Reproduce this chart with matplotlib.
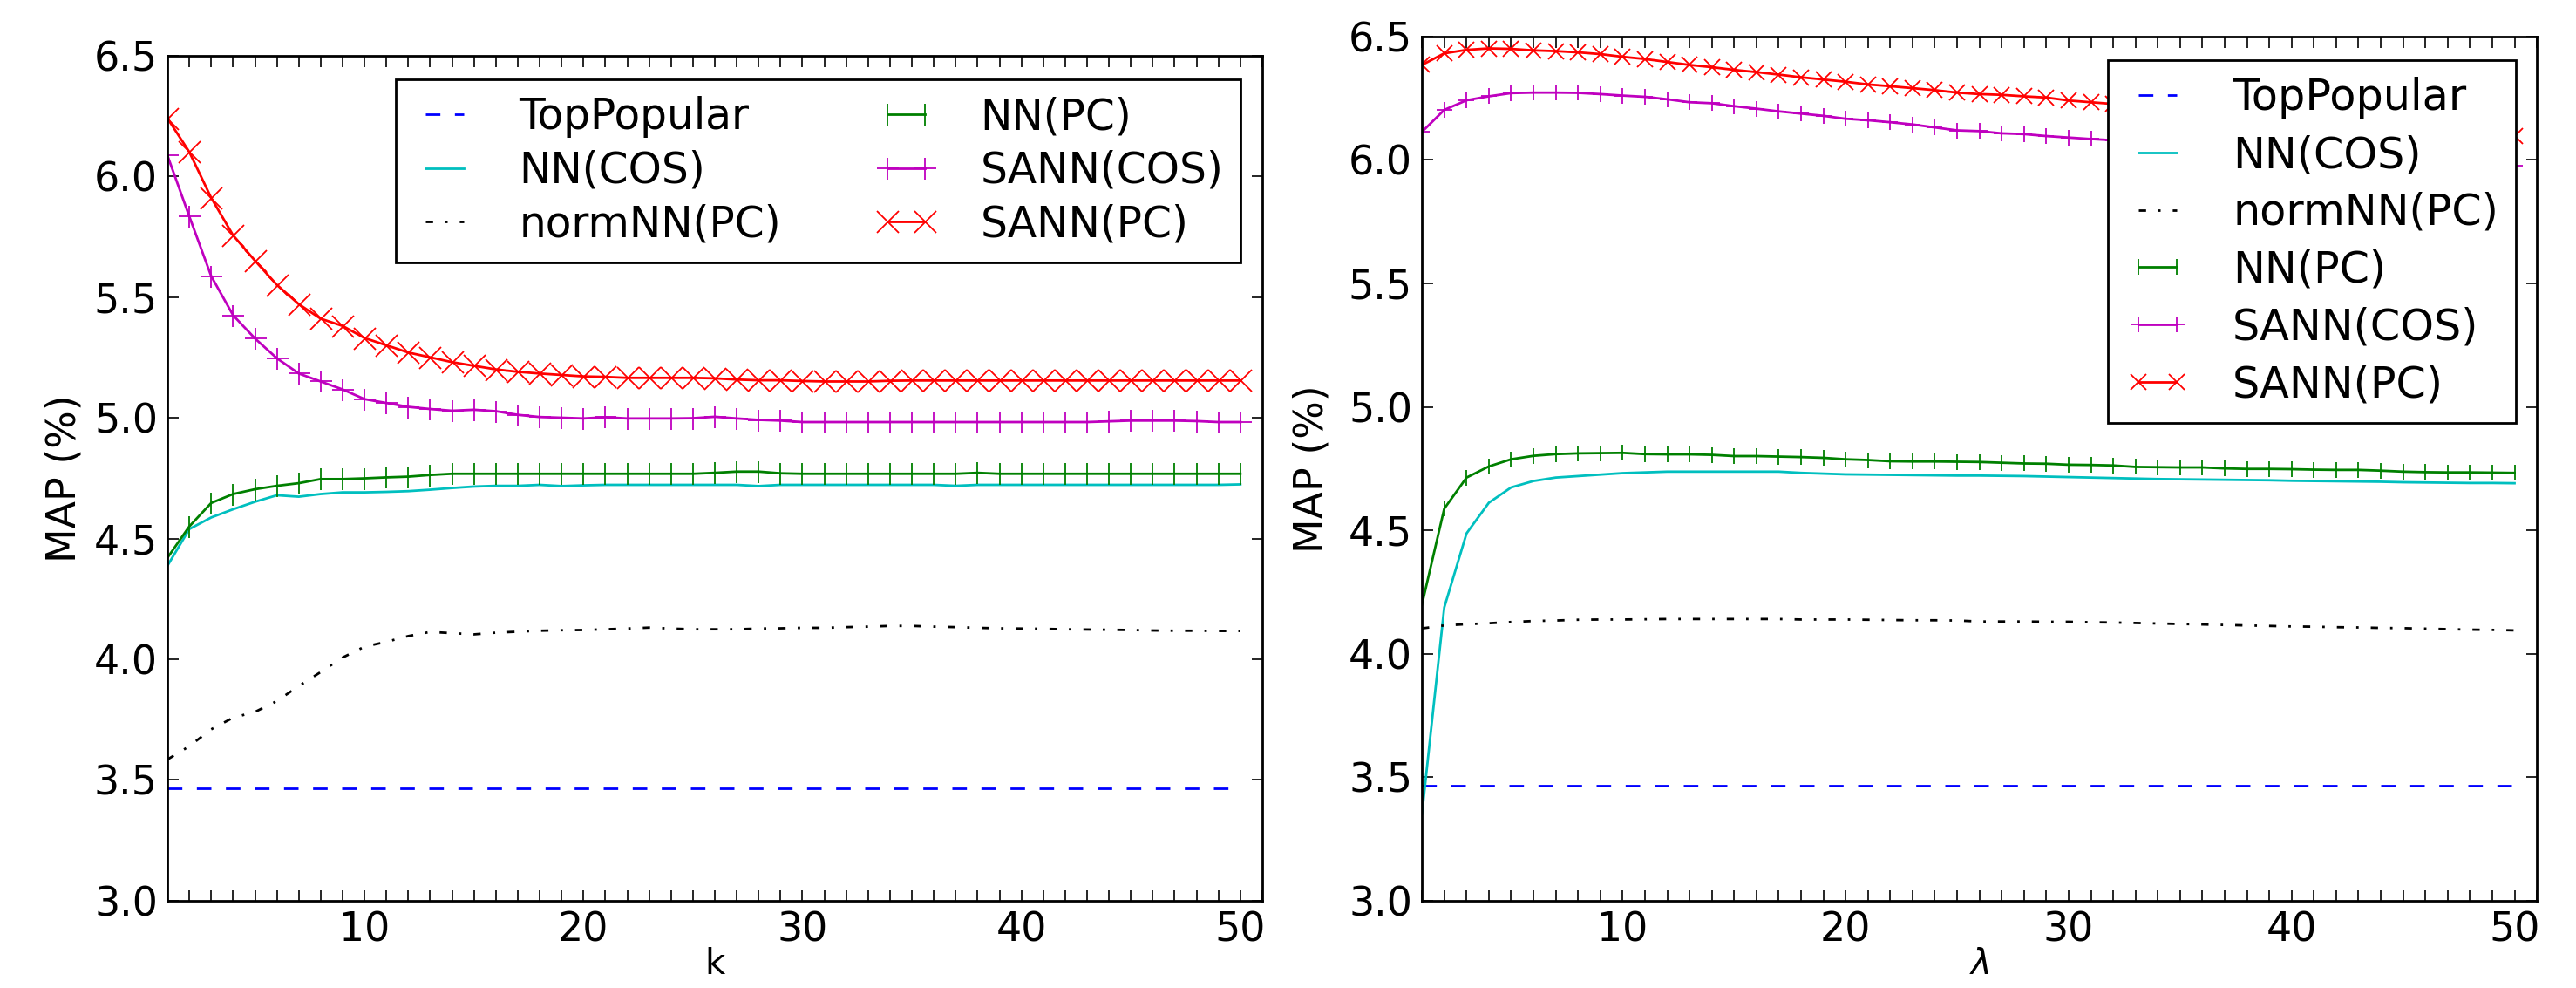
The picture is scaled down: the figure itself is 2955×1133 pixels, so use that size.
import matplotlib
matplotlib.use("Agg")
import matplotlib.pyplot as plt
from matplotlib.ticker import MultipleLocator, FormatStrFormatter
import numpy as np

# x axis: neighbourhood size k (left) and lambda (right), 1..50
k = np.arange(1, 51)

labels = ["TopPopular", "NN(COS)", "normNN(PC)", "NN(PC)", "SANN(COS)", "SANN(PC)"]

# ---- left panel (k) ----
left_top = [3.465] * 50
left_nn_cos = [4.387, 4.539, 4.587, 4.621, 4.652, 4.679, 4.673, 4.684, 4.691, 4.691,
               4.693, 4.696, 4.702, 4.709, 4.715, 4.718, 4.718, 4.722, 4.717, 4.720,
               4.722, 4.722, 4.722, 4.722, 4.722, 4.722, 4.722, 4.717, 4.722, 4.722,
               4.722, 4.722, 4.722, 4.722, 4.722, 4.722, 4.718, 4.722, 4.722, 4.722,
               4.722, 4.722, 4.722, 4.722, 4.722, 4.722, 4.722, 4.722, 4.722, 4.724]
left_norm_pc = [3.585, 3.640, 3.710, 3.758, 3.782, 3.827, 3.889, 3.947, 4.007, 4.052,
                4.072, 4.096, 4.113, 4.108, 4.103, 4.110, 4.114, 4.118, 4.120, 4.121,
                4.124, 4.127, 4.131, 4.127, 4.124, 4.124, 4.124, 4.127, 4.128, 4.130,
                4.130, 4.133, 4.135, 4.138, 4.138, 4.135, 4.133, 4.130, 4.128, 4.127,
                4.126, 4.124, 4.123, 4.122, 4.121, 4.119, 4.118, 4.118, 4.117, 4.117]
left_nn_pc = [4.420, 4.550, 4.647, 4.684, 4.704, 4.718, 4.729, 4.746, 4.746, 4.749,
              4.753, 4.756, 4.763, 4.768, 4.768, 4.768, 4.768, 4.768, 4.768, 4.768,
              4.768, 4.768, 4.768, 4.768, 4.768, 4.772, 4.777, 4.777, 4.770, 4.768,
              4.768, 4.768, 4.768, 4.768, 4.768, 4.768, 4.768, 4.772, 4.768, 4.768,
              4.768, 4.768, 4.768, 4.768, 4.768, 4.768, 4.768, 4.768, 4.768, 4.768]
left_sann_cos = [6.086, 5.833, 5.586, 5.424, 5.328, 5.246, 5.183, 5.150, 5.117, 5.077,
                 5.061, 5.045, 5.036, 5.029, 5.033, 5.027, 5.012, 5.003, 5.000, 4.997,
                 5.002, 4.997, 4.997, 4.997, 4.998, 5.004, 4.997, 4.991, 4.988, 4.982,
                 4.982, 4.982, 4.982, 4.982, 4.982, 4.982, 4.982, 4.982, 4.982, 4.982,
                 4.982, 4.982, 4.982, 4.985, 4.988, 4.988, 4.988, 4.986, 4.982, 4.982]
left_sann_pc = [6.240, 6.100, 5.910, 5.755, 5.650, 5.550, 5.470, 5.410, 5.380, 5.330,
                5.300, 5.270, 5.250, 5.230, 5.215, 5.200, 5.190, 5.183, 5.177, 5.171,
                5.169, 5.165, 5.165, 5.165, 5.165, 5.163, 5.158, 5.155, 5.155, 5.152,
                5.150, 5.150, 5.150, 5.153, 5.154, 5.154, 5.154, 5.154, 5.154, 5.154,
                5.154, 5.154, 5.154, 5.154, 5.154, 5.154, 5.154, 5.154, 5.154, 5.154]

# ---- right panel (lambda) ----
right_top = [3.465] * 50
right_nn_cos = [3.352, 4.188, 4.488, 4.612, 4.674, 4.700, 4.714, 4.720, 4.726, 4.732,
                4.735, 4.738, 4.738, 4.738, 4.738, 4.738, 4.738, 4.733, 4.730, 4.727,
                4.726, 4.725, 4.724, 4.723, 4.722, 4.722, 4.721, 4.720, 4.718, 4.716,
                4.714, 4.712, 4.710, 4.708, 4.707, 4.706, 4.705, 4.704, 4.703, 4.701,
                4.700, 4.699, 4.698, 4.697, 4.695, 4.694, 4.693, 4.692, 4.692, 4.691]
right_norm_pc = [4.103, 4.115, 4.120, 4.124, 4.129, 4.133, 4.135, 4.138, 4.139, 4.139,
                 4.140, 4.141, 4.141, 4.141, 4.141, 4.141, 4.141, 4.139, 4.139, 4.139,
                 4.138, 4.137, 4.136, 4.136, 4.135, 4.131, 4.131, 4.131, 4.130, 4.130,
                 4.128, 4.127, 4.125, 4.123, 4.121, 4.119, 4.117, 4.115, 4.113, 4.111,
                 4.110, 4.108, 4.107, 4.105, 4.104, 4.102, 4.100, 4.098, 4.097, 4.095]
right_nn_pc = [4.200, 4.588, 4.714, 4.759, 4.788, 4.802, 4.809, 4.812, 4.813, 4.814,
               4.809, 4.808, 4.808, 4.806, 4.801, 4.801, 4.799, 4.797, 4.794, 4.788,
               4.785, 4.780, 4.779, 4.779, 4.778, 4.777, 4.774, 4.771, 4.770, 4.766,
               4.765, 4.763, 4.757, 4.756, 4.755, 4.755, 4.751, 4.749, 4.749, 4.748,
               4.746, 4.745, 4.745, 4.742, 4.738, 4.736, 4.735, 4.735, 4.734, 4.733]
right_sann_cos = [6.114, 6.203, 6.242, 6.258, 6.271, 6.273, 6.273, 6.272, 6.267, 6.261,
                  6.256, 6.246, 6.234, 6.230, 6.218, 6.208, 6.197, 6.188, 6.179, 6.167,
                  6.161, 6.153, 6.144, 6.132, 6.120, 6.117, 6.108, 6.105, 6.097, 6.091,
                  6.085, 6.080, 6.075, 6.069, 6.063, 6.057, 6.051, 6.045, 6.040, 6.034,
                  6.028, 6.022, 6.016, 6.010, 6.005, 5.999, 5.993, 5.988, 5.983, 5.978]
right_sann_pc = [6.385, 6.432, 6.446, 6.452, 6.450, 6.444, 6.441, 6.436, 6.429, 6.418,
                 6.409, 6.397, 6.385, 6.376, 6.365, 6.356, 6.346, 6.335, 6.326, 6.317,
                 6.306, 6.299, 6.291, 6.283, 6.273, 6.267, 6.264, 6.258, 6.253, 6.241,
                 6.234, 6.227, 6.220, 6.212, 6.205, 6.198, 6.190, 6.183, 6.176, 6.169,
                 6.162, 6.155, 6.148, 6.141, 6.134, 6.126, 6.119, 6.112, 6.105, 6.097]

FS = 33
plt.rcParams['font.family'] = ['DejaVu Sans']
plt.rcParams['mathtext.fontset'] = 'dejavusans'

fig = plt.figure(figsize=(29.55, 11.33), dpi=100)
ax1 = fig.add_axes([0.065, 0.0883, 0.425, 0.8556])
ax2 = fig.add_axes([0.552, 0.0883, 0.4328, 0.8747])


def draw(ax, series, ms, xlabel, leg_kw):
    top, nn_cos, norm_pc, nn_pc, sann_cos, sann_pc = series
    lw = 2
    ax.plot(k, top, color='b', lw=lw, dashes=(6, 6), label=labels[0])
    ax.plot(k, nn_cos, color='c', lw=lw, label=labels[1])
    ax.plot(k, norm_pc, color='k', lw=lw, dashes=(3, 5, 1, 5), label=labels[2])
    ax.plot(k, nn_pc, color='g', lw=lw, marker='|', ms=ms, mew=1.3, label=labels[3])
    ax.plot(k, sann_cos, color='m', lw=lw, marker='+', ms=ms, mew=1.3, label=labels[4])
    ax.plot(k, sann_pc, color='r', lw=lw, marker='x', ms=ms, mew=1.3, label=labels[5])

    ax.set_xlim(1, 51)
    ax.set_ylim(3.0, 6.5)
    ax.xaxis.set_major_locator(MultipleLocator(10))
    ax.xaxis.set_minor_locator(MultipleLocator(1))
    ax.yaxis.set_major_locator(MultipleLocator(0.5))
    ax.yaxis.set_major_formatter(FormatStrFormatter('%.1f'))
    ax.tick_params(which='both', direction='in', top=True, right=True,
                   labelsize=FS, pad=8, length=9, width=1.2)
    for s in ax.spines.values():
        s.set_linewidth(2)
    ax.set_xlabel(xlabel, fontsize=29)
    ax.set_ylabel('MAP (%)', fontsize=FS)

    leg = ax.legend(numpoints=2, handlelength=1.5, handletextpad=1.0,
                    borderpad=0.4, fancybox=False, framealpha=1,
                    edgecolor='k', loc='upper right', borderaxespad=0, **leg_kw)
    leg.get_frame().set_linewidth(2)


draw(ax1, [left_top, left_nn_cos, left_norm_pc, left_nn_pc, left_sann_cos, left_sann_pc],
     18, 'k', dict(ncol=2, columnspacing=2.2, fontsize=35, labelspacing=0.28,
                   bbox_to_anchor=(0.98, 0.972)))
draw(ax2, [right_top, right_nn_cos, right_norm_pc, right_nn_pc, right_sann_cos, right_sann_pc],
     13, r'$\lambda$', dict(ncol=1, fontsize=35.5, labelspacing=0.36,
                            bbox_to_anchor=(0.981, 0.973)))

# y labels placed to match the reference spacing, x labels kept inside the figure
ax1.yaxis.labelpad = 8
ax2.yaxis.labelpad = 14
ax1.xaxis.set_label_coords(0.5, -0.055)
ax2.xaxis.set_label_coords(0.5, -0.054)

fig.savefig('out.png', dpi=100)
